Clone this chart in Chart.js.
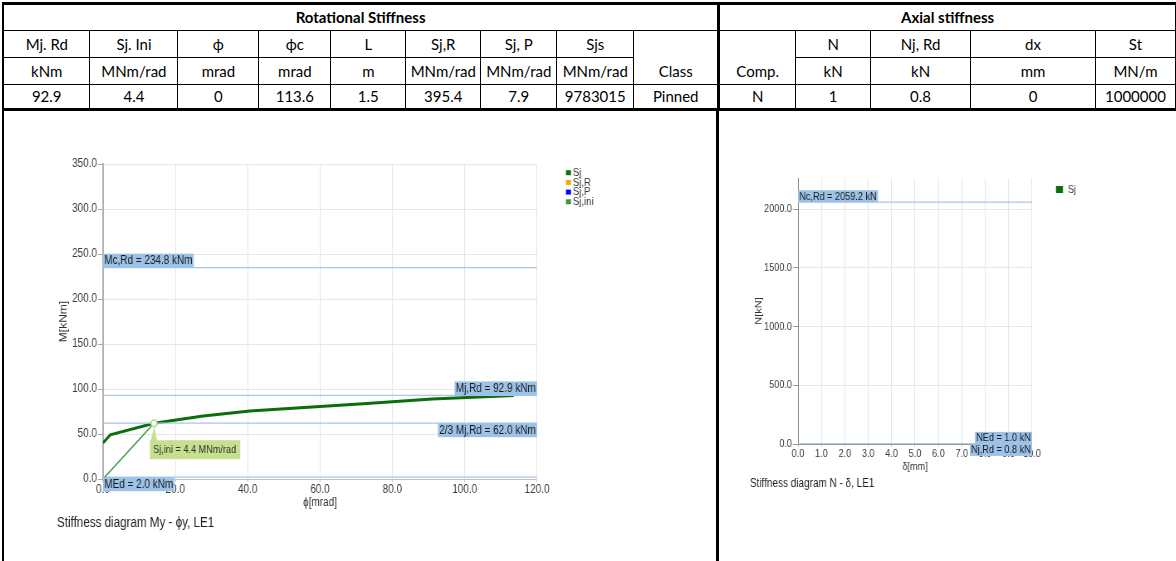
<!DOCTYPE html>
<html>
<head>
<meta charset="utf-8">
<script src="https://cdn.jsdelivr.net/npm/chart.js@4.4.1/dist/chart.umd.min.js"></script>
<style>
  body { margin: 0; width: 1176px; height: 561px; background: #fff; overflow: hidden; position: relative; }
  #tbl { position: absolute; left: 2px; top: 2px; border-collapse: collapse; table-layout: fixed;
         font-family: Lato, "Open Sans", sans-serif; font-size: 15px; color: #000; }
  #tbl td { border: 1px solid #000; text-align: center; vertical-align: middle; padding: 0;
            white-space: nowrap; overflow: hidden; line-height: 1; }
  #tbl tr.r0 td { height: 25px; border-top: 3px solid #000; font-weight: bold; }
  #tbl tr.r1 td { height: 26px; }
  #tbl tr.r2 td { height: 26px; }
  #tbl tr.r3 td { height: 23px; border-bottom: 3px solid #000; }
  #tbl td.first { border-left: 2px solid #000; }
  #tbl td.sep { border-left: 3px solid #000; }
  #tbl td.low { vertical-align: bottom; padding-bottom: 5px; }
  .rule { position: absolute; background: #000; }
  /* the diagrams are drawn wide and squeezed horizontally */
  .squeeze { position: absolute; transform: scaleX(0.83); transform-origin: 0 0; }
  #rotBox { left: 40px; top: 150px; width: 815px; height: 390px; }
  #axBox { left: 720px; top: 150px; width: 550px; height: 360px; }
</style>
</head>
<body>
<table id="tbl"></table>
<div class="rule" style="left:2px; top:110px; width:2px; height:451px;"></div>
<div class="rule" style="left:716px; top:110px; width:3px; height:451px;"></div>
<div id="rotBox" class="squeeze"><canvas id="rotChart" width="815" height="390"></canvas></div>
<div id="axBox" class="squeeze"><canvas id="axChart" width="550" height="360"></canvas></div>
<script>
// summary table
const rotHeads = ['Mj. Rd', 'Sj. Ini', 'ϕ', 'ϕc', 'L', 'Sj,R', 'Sj, P', 'Sjs'];
const rotUnits = ['kNm', 'MNm/rad', 'mrad', 'mrad', 'm', 'MNm/rad', 'MNm/rad', 'MNm/rad'];
const rotValues = ['92.9', '4.4', '0', '113.6', '1.5', '395.4', '7.9', '9783015', 'Pinned'];
const axHeads = ['N', 'Nj, Rd', 'dx', 'St'];
const axUnits = ['kN', 'kN', 'mm', 'MN/m'];
const axValues = ['N', '1', '0.8', '0', '1000000'];

// M - phi diagram
const rotPhi = [0, 2, 14.1, 27.7, 40.6, 60, 73, 91, 113.6];
const rotM = [40, 49, 62.0, 70, 75.6, 80.5, 84, 89, 92.9];
const iniPhi = [0, 14.1];
const iniM = [0, 62.0];
const sjIni = 4.4;
const rotLimitNames = ['Mc,Rd', 'Mj,Rd', '2/3 Mj,Rd', 'MEd'];
const rotLimitValues = [234.8, 92.9, 62.0, 2.0];
const rotXTicks = [0, 20, 40, 60, 80, 100, 120];
const rotYTicks = [0, 50, 100, 150, 200, 250, 300, 350];

// N - delta diagram
const axDelta = [0, 0];
const axN = [0, 1.0];
const axLimitNames = ['Nc,Rd', 'NEd', 'Nj,Rd'];
const axLimitValues = [2059.2, 1.0, 0.8];
const axXTicks = [0, 1, 2, 3, 4, 5, 6, 7, 8, 9, 10];
const axYTicks = [0, 500, 1000, 1500, 2000];
const axYMax = 2265;

// ---- table ----
const colW = [87, 88, 81, 72, 75, 75, 76, 77, 85, 77, 75, 100, 125, 80];
const tbl = document.getElementById('tbl');
const cg = document.createElement('colgroup');
colW.forEach(w => { const c = document.createElement('col'); c.style.width = w + 'px'; cg.appendChild(c); });
tbl.appendChild(cg);

function addRow(cls, cells) {
  const tr = document.createElement('tr');
  tr.className = cls;
  cells.forEach(c => {
    const td = document.createElement('td');
    td.textContent = c.t;
    if (c.span) td.colSpan = c.span;
    if (c.rows) td.rowSpan = c.rows;
    if (c.cls) td.className = c.cls;
    tr.appendChild(td);
  });
  tbl.appendChild(tr);
}
const firstCls = i => (i === 0 ? 'first' : '');
addRow('r0', [{t: 'Rotational Stiffness', span: 9, cls: 'first'}, {t: 'Axial stiffness', span: 5, cls: 'sep'}]);
addRow('r1', rotHeads.map((t, i) => ({t, cls: firstCls(i)}))
  .concat([{t: 'Class', rows: 2, cls: 'low'}, {t: 'Comp.', rows: 2, cls: 'sep low'}])
  .concat(axHeads.map(t => ({t}))));
addRow('r2', rotUnits.map((t, i) => ({t, cls: firstCls(i)})).concat(axUnits.map(t => ({t}))));
addRow('r3', rotValues.map((t, i) => ({t, cls: firstCls(i)}))
  .concat(axValues.map((t, i) => ({t, cls: i === 0 ? 'sep' : ''}))));

// ---- charts ----
const chartFont = '"Liberation Sans", Arial, sans-serif';
Chart.defaults.font.family = chartFont;
Chart.defaults.color = '#3a3a3a';

const tagFill = '#9cc2e8';
const limitColor = '#a8c6e8';

// value boxes sitting on the limit lines
const limitTags = {
  id: 'limitTags',
  afterDatasetsDraw(chart, args, opts) {
    const {ctx, chartArea} = chart;
    const y = chart.scales.y;
    ctx.save();
    ctx.font = opts.size + 'px ' + chartFont;
    ctx.textBaseline = 'middle';
    ctx.textAlign = 'left';
    opts.names.forEach((name, i) => {
      const value = opts.values[i];
      const place = opts.places[i];
      const text = name + ' = ' + value.toFixed(1) + ' ' + opts.unit;
      const py = y.getPixelForValue(value);
      const w = ctx.measureText(text).width + 3;
      const h = opts.boxH;
      const x0 = place.side === 'left' ? chartArea.left : chartArea.right - w;
      const y0 = place.above ? py - h : py;
      ctx.fillStyle = tagFill;
      ctx.fillRect(x0, y0, w, h);
      ctx.fillStyle = '#1a1a1a';
      ctx.fillText(text, x0 + 1.5, y0 + h / 2 + 0.5);
    });
    ctx.restore();
  }
};

// pointer box for the initial stiffness
const stiffCallout = {
  id: 'stiffCallout',
  afterDatasetsDraw(chart, args, opts) {
    if (!opts.text) return;
    const pt = chart.getDatasetMeta(opts.datasetIndex).data[opts.pointIndex];
    const {ctx} = chart;
    ctx.save();
    ctx.font = '11px ' + chartFont;
    const w = ctx.measureText(opts.text).width + 9;
    const h = 19;
    const bx = pt.x - 5, by = pt.y + 17;
    ctx.fillStyle = '#c6e08e';
    ctx.beginPath();
    ctx.moveTo(pt.x, pt.y + 3);
    ctx.lineTo(bx + 1, by + 1);
    ctx.lineTo(bx + 9, by + 1);
    ctx.closePath();
    ctx.fill();
    ctx.fillRect(bx, by, w, h);
    ctx.fillStyle = '#333';
    ctx.textBaseline = 'middle';
    ctx.fillText(opts.text, bx + 4, by + h / 2 + 0.5);
    ctx.restore();
  }
};

// small legend beside the plot
const sideLegend = {
  id: 'sideLegend',
  afterDraw(chart, args, opts) {
    const {ctx} = chart;
    const items = chart.data.datasets.filter(ds => ds.inLegend !== false);
    ctx.save();
    ctx.font = opts.size + 'px ' + chartFont;
    ctx.textBaseline = 'middle';
    items.forEach((ds, i) => {
      const yy = opts.y + i * opts.step;
      ctx.fillStyle = ds.borderColor;
      ctx.fillRect(opts.x, yy - opts.boxH / 2, opts.boxW, opts.boxH);
      ctx.fillStyle = '#333';
      ctx.fillText(ds.label, opts.x + opts.boxW + opts.gap, yy);
    });
    ctx.restore();
  }
};

function pts(xs, ys) { return xs.map((x, i) => ({x, y: ys[i]})); }
function limitSets(names, values, x0, x1) {
  return names.map((n, i) => ({
    label: n, inLegend: false, data: [{x: x0, y: values[i]}, {x: x1, y: values[i]}],
    showLine: true, borderColor: limitColor, borderWidth: 1.2, pointRadius: 0
  }));
}
const fixTicks = list => scale => { scale.ticks = list.map(v => ({value: v})); };

new Chart(document.getElementById('rotChart'), {
  type: 'scatter',
  data: {
    datasets: [
      {label: 'Sj', data: pts(rotPhi, rotM), showLine: true, borderColor: '#0b6e0b', borderWidth: 3, pointRadius: 0, order: 1},
      {label: 'Sj,R', data: [], showLine: true, borderColor: '#ffa500', pointRadius: 0},
      {label: 'Sj,P', data: [], showLine: true, borderColor: '#0000ff', pointRadius: 0},
      {label: 'Sj,ini', data: pts(iniPhi, iniM), showLine: true, borderColor: '#3f923f', borderWidth: 1.5,
        pointRadius: [0, 3.5], pointBackgroundColor: '#fffde8', pointBorderColor: '#b2d884', pointBorderWidth: 1.5, order: 0}
    ].concat(limitSets(rotLimitNames, rotLimitValues, 0, 120))
  },
  options: {
    responsive: false,
    animation: false,
    events: [],
    layout: {padding: {left: 20.5, top: 14, right: 216.2, bottom: 8.2}},
    scales: {
      x: {
        type: 'linear', min: 0, max: 120,
        afterBuildTicks: fixTicks(rotXTicks),
        afterFit: s => { s.height = 36; },
        grid: {color: '#e6e6e6', tickColor: '#c8c8c8', tickLength: 3},
        border: {color: '#c0c0c0', width: 1},
        ticks: {padding: 0, font: {size: 12}, autoSkip: false, maxRotation: 0, callback: v => v.toFixed(1)},
        title: {display: true, text: 'ϕ[mrad]', font: {size: 12}, padding: {top: 0, bottom: 4.8}, color: '#333'}
      },
      y: {
        type: 'linear', min: 0, max: 350,
        afterBuildTicks: fixTicks(rotYTicks),
        afterFit: s => { s.width = 55.4; },
        grid: {color: '#e6e6e6', tickColor: '#aaa', tickLength: 6},
        border: {color: '#b0b0b0', width: 2},
        ticks: {padding: 1.2, font: {size: 12}, autoSkip: false, callback: v => v.toFixed(1)},
        title: {display: true, text: 'M[kNm]', font: {size: 12}, padding: {top: 1.2, bottom: 0}, color: '#333'}
      }
    },
    plugins: {
      legend: {display: false},
      tooltip: {enabled: false},
      title: {display: true, position: 'bottom', align: 'start', text: 'Stiffness diagram My - ϕy, LE1',
        color: '#222', font: {size: 14, weight: 'normal'}, padding: 0},
      limitTags: {names: rotLimitNames, values: rotLimitValues, unit: 'kNm', size: 12, boxH: 14,
        places: [{side: 'left', above: true}, {side: 'right', above: true}, {side: 'right', above: false}, {side: 'left', above: false}]},
      stiffCallout: {datasetIndex: 3, pointIndex: 1, text: 'Sj,ini = ' + sjIni.toFixed(1) + ' MNm/rad'},
      sideLegend: {x: 633.7, y: 22.7, step: 9.7, boxW: 6, boxH: 5, gap: 2.4, size: 11.5}
    }
  },
  plugins: [limitTags, stiffCallout, sideLegend]
});

new Chart(document.getElementById('axChart'), {
  type: 'scatter',
  data: {
    datasets: [
      {label: 'Sj', data: pts(axDelta, axN), showLine: true, borderColor: '#0b6e0b', borderWidth: 3, pointRadius: 0}
    ].concat(limitSets(axLimitNames, axLimitValues, 0, 10))
  },
  options: {
    responsive: false,
    animation: false,
    events: [],
    layout: {padding: {left: 36.1, top: 28, right: 174.1, bottom: 19.1}},
    scales: {
      x: {
        type: 'linear', min: 0, max: 10,
        afterBuildTicks: fixTicks(axXTicks),
        afterFit: s => { s.height = 31; },
        grid: {color: '#e6e6e6', tickColor: '#c8c8c8', tickLength: 3},
        border: {color: '#9a9a9a', width: 1},
        ticks: {padding: 0, font: {size: 11}, autoSkip: false, maxRotation: 0, callback: v => v.toFixed(1)},
        title: {display: true, text: 'δ[mm]', font: {size: 11}, padding: {top: 0, bottom: 1.4}, color: '#333'}
      },
      y: {
        type: 'linear', min: 0, max: axYMax,
        afterBuildTicks: fixTicks(axYTicks),
        afterFit: s => { s.width = 57.9; },
        grid: {color: '#e6e6e6', tickColor: '#999', tickLength: 6},
        border: {color: '#888', width: 1},
        ticks: {padding: 1.3, font: {size: 11}, autoSkip: false, callback: v => v.toFixed(1)},
        title: {display: true, text: 'N[kN]', font: {size: 11}, padding: {top: 4.3, bottom: 0}, color: '#333'}
      }
    },
    plugins: {
      legend: {display: false},
      tooltip: {enabled: false},
      title: {display: true, position: 'bottom', align: 'start', text: 'Stiffness diagram N - δ, LE1',
        color: '#222', font: {size: 12, weight: 'normal'}, padding: {top: 1.5, bottom: 0}},
      limitTags: {names: axLimitNames, values: axLimitValues, unit: 'kN', size: 11, boxH: 12,
        places: [{side: 'left', above: true}, {side: 'right', above: true}, {side: 'right', above: false}]},
      sideLegend: {x: 404.8, y: 39.5, step: 10, boxW: 8.4, boxH: 7, gap: 6, size: 11}
    }
  },
  plugins: [limitTags, sideLegend]
});
</script>
</body>
</html>
